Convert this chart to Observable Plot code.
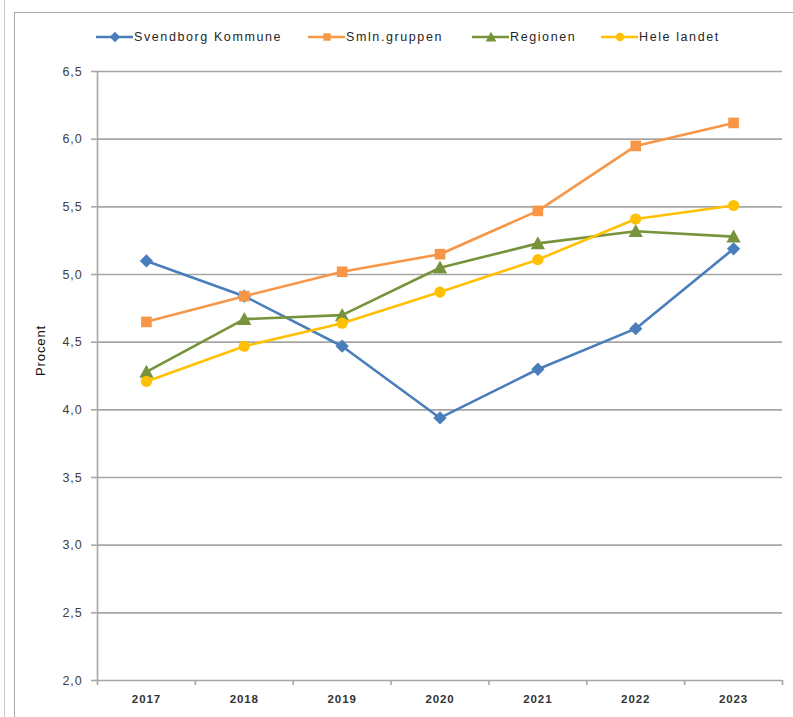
<!DOCTYPE html>
<html>
<head>
<meta charset="utf-8">
<script src="https://cdn.jsdelivr.net/npm/d3@7"></script>
<script src="https://cdn.jsdelivr.net/npm/@observablehq/plot@0.6"></script>
<style>
  html, body { margin: 0; padding: 0; background: #fff; }
  body { width: 793px; height: 717px; position: relative; overflow: hidden; font-family: "Liberation Sans", Arial, sans-serif; }
  #outer { position: absolute; left: 4px; top: -2px; width: 900px; height: 800px; border-left: 1px solid #c8c8c8; }
  #frame { position: absolute; left: 14px; top: 12px; width: 900px; height: 800px; border-left: 1.5px solid #a8a8a8; border-top: 1.5px solid #a8a8a8; }
  #chart { position: absolute; left: 0; top: 0; }
  #legend { position: absolute; top: 29px; left: 0; width: 793px; height: 16px; }
  .item { position: absolute; top: 0; display: flex; align-items: center; font-size: 12.5px; color: #262626; letter-spacing: 1.6px; }
  .item svg { margin-right: 1px; }
  svg text { letter-spacing: 0.9px; }
</style>
</head>
<body>
<div id="outer"></div>
<div id="frame"></div>
<div id="chart"></div>
<div id="legend"></div>
<script>
const years = [2017, 2018, 2019, 2020, 2021, 2022, 2023];
const seriesNames = ["Svendborg Kommune", "Smln.gruppen", "Regionen", "Hele landet"];
const svendborg = [5.10, 4.84, 4.47, 3.94, 4.30, 4.60, 5.19];
const smlngruppen = [4.65, 4.84, 5.02, 5.15, 5.47, 5.95, 6.12];
const regionen = [4.28, 4.67, 4.70, 5.05, 5.23, 5.32, 5.28];
const heleLandet = [4.21, 4.47, 4.64, 4.87, 5.11, 5.41, 5.51];
const yTicks = [2.0, 2.5, 3.0, 3.5, 4.0, 4.5, 5.0, 5.5, 6.0, 6.5];
const colors = ["#4A7EBB", "#F79646", "#77933C", "#FFC000"];
const legendX = [96, 308, 472, 601];

// custom marker shapes (Excel-like)
const diamondSym = {draw(ctx, size) { const r = Math.sqrt(size / 2); ctx.moveTo(0, -r); ctx.lineTo(r, 0); ctx.lineTo(0, r); ctx.lineTo(-r, 0); ctx.closePath(); }};
const squareSym = {draw(ctx, size) { const s = Math.sqrt(size) / 2; ctx.rect(-s, -s, 2 * s, 2 * s); }};
const triangleSym = {draw(ctx, size) { const h = Math.sqrt(size * Math.sqrt(3)) ; const w = h / Math.sqrt(3); ctx.moveTo(0, -h * 0.55); ctx.lineTo(w * 0.95, h * 0.45); ctx.lineTo(-w * 0.95, h * 0.45); ctx.closePath(); }};
const circleSym = {draw(ctx, size) { const r = Math.sqrt(size / Math.PI); ctx.moveTo(r, 0); ctx.arc(0, 0, r, 0, 2 * Math.PI); }};
const symbols = [diamondSym, squareSym, triangleSym, circleSym];
const radii = [5.3, 6.0, 5.6, 5.6];

const valuesList = [svendborg, smlngruppen, regionen, heleLandet];
const data = seriesNames.flatMap((s, i) => years.map((y, j) => ({series: s, year: y, value: valuesList[i][j]})));
const boundaries = years.map(y => y - 0.5).concat([years[years.length - 1] + 0.5]);
const fmt = d => d3.format(".1f")(d).replace(".", ",");

const marks = [
  Plot.ruleY(yTicks, {stroke: "#a6a6a6", strokeWidth: 1.6}),
  Plot.ruleX([boundaries[0]], {y1: 2, y2: 6.5, stroke: "#a6a6a6", strokeWidth: 1.6}),
  Plot.axisY({ticks: yTicks, tickFormat: fmt, tickSize: 6, tickPadding: 9, fontSize: 12.5, stroke: "#a6a6a6", strokeWidth: 1.6, label: null, color: "#404040"}),
  Plot.axisX({ticks: boundaries, tickFormat: () => "", tickSize: 5, stroke: "#a6a6a6", strokeWidth: 1.6, label: null}),
  Plot.axisX({ticks: years, tickFormat: d => String(d), tickSize: 0, tickPadding: 14, fontSize: 11.5, label: null, color: "#333", fontWeight: "bold"}),
  Plot.text(["Procent"], {frameAnchor: "left", dx: -57, rotate: -90, fontSize: 13, fill: "#111"})
];
seriesNames.forEach((s, i) => {
  const d = data.filter(r => r.series === s);
  marks.push(Plot.line(d, {x: "year", y: "value", stroke: colors[i], strokeWidth: 2.6}));
  marks.push(Plot.dot(d, {x: "year", y: "value", fill: colors[i], symbol: symbols[i], r: radii[i], stroke: "none"}));
});

const plot = Plot.plot({
  width: 793,
  height: 717,
  marginLeft: 97,
  marginRight: 11,
  marginTop: 71,
  marginBottom: 37,
  x: {type: "linear", domain: [boundaries[0], boundaries[boundaries.length - 1]]},
  y: {type: "linear", domain: [2, 6.5]},
  style: {fontFamily: "Liberation Sans, Arial, sans-serif", background: "transparent"},
  marks
});
document.getElementById("chart").appendChild(plot);

const legend = document.getElementById("legend");
seriesNames.forEach((s, i) => {
  const item = document.createElement("div");
  item.className = "item";
  item.style.left = legendX[i] + "px";
  const svg = d3.create("svg").attr("width", 37).attr("height", 16);
  svg.append("line").attr("x1", 0).attr("x2", 37).attr("y1", 8).attr("y2", 8).attr("stroke", colors[i]).attr("stroke-width", 2.6);
  svg.append("path").attr("d", d3.symbol(symbols[i], 55)())
    .attr("transform", "translate(19,8)").attr("fill", colors[i]);
  item.appendChild(svg.node());
  const t = document.createElement("span");
  t.textContent = s;
  item.appendChild(t);
  legend.appendChild(item);
});
</script>
</body>
</html>
